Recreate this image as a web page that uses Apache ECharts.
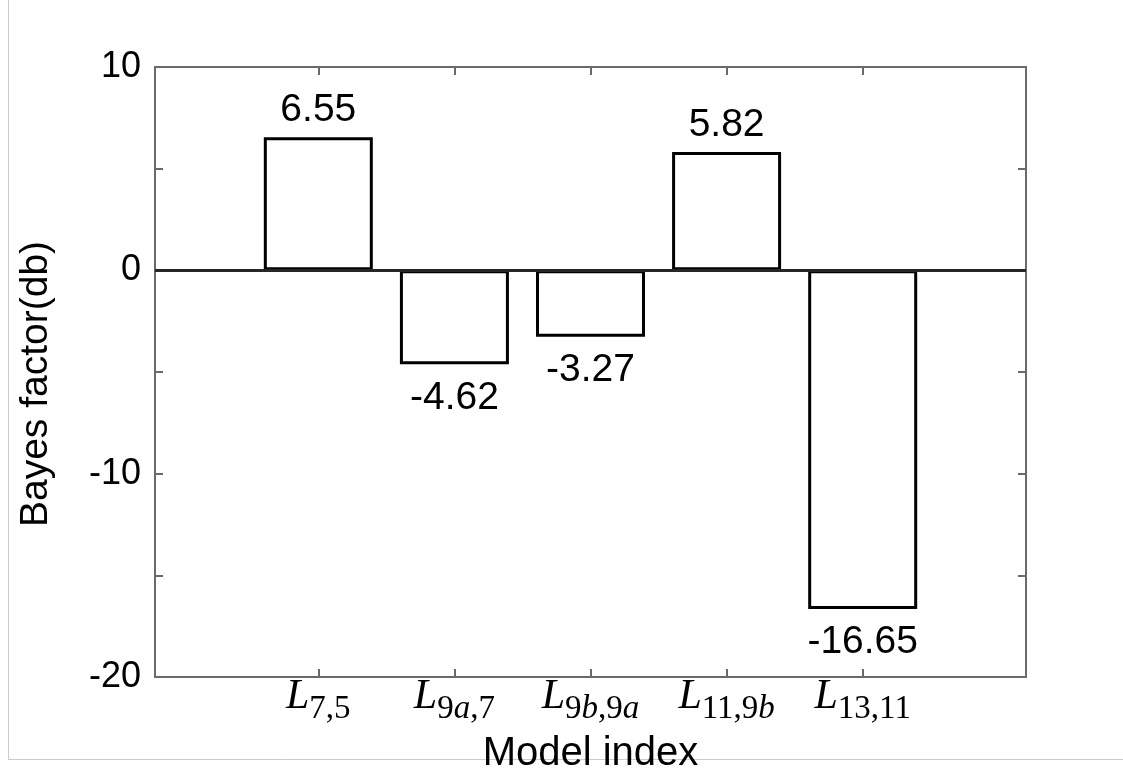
<!DOCTYPE html>
<html><head><meta charset="utf-8">
<script src="https://cdn.jsdelivr.net/npm/echarts@6/dist/echarts.min.js"></script>
<style>html,body{margin:0;padding:0;background:#fff}#c{width:1123px;height:774px}</style>
</head><body><div id="c"></div>
<script>
// ---- data ----
const categories = ['7,5', '9a,7', '9b,9a', '11,9b', '13,11'];
const positions = [1, 2, 3, 4, 5];
const values = [6.55, -4.62, -3.27, 5.82, -16.65];
const yTickLabels = [-20, -10, 0, 10];
const xTitle = 'Model index';
const yTitle = 'Bayes factor(db)';

// ---- build ----
function subRich(s) {
  let out = '', buf = '';
  for (const ch of s) {
    if (/[a-z]/i.test(ch)) {
      if (buf) { out += '{s|' + buf + '}'; buf = ''; }
      out += '{si|' + ch + '}';
    } else buf += ch;
  }
  if (buf) out += '{s|' + buf + '}';
  return out;
}
function xLabel(v) {
  const i = positions.indexOf(v);
  if (i < 0) return '';
  return '{L|L}' + subRich(categories[i]);
}
const frame = '#6a6a6a';
const chart = echarts.init(document.getElementById('c'));
const barData = positions.map((p, i) => ({
  value: [p, values[i]],
  label: { position: values[i] >= 0 ? 'top' : 'bottom', distance: values[i] >= 0 ? 7 : 14 }
}));
const subStyle = { fontFamily: 'Liberation Serif', fontSize: 33, height: 18, lineHeight: 18, verticalAlign: 'bottom', color: '#000' };
chart.setOption({
  animation: false,
  backgroundColor: '#fff',
  grid: { left: 155, right: 97, top: 67, bottom: 97, containLabel: false, outerBoundsMode: 'none' },
  graphic: [
    { type: 'line', z: -10, shape: { x1: 8.5, y1: 0, x2: 8.5, y2: 759.5 }, style: { stroke: '#cccccc', lineWidth: 1 } },
    { type: 'line', z: -10, shape: { x1: 8, y1: 759.5, x2: 1123, y2: 759.5 }, style: { stroke: '#cccccc', lineWidth: 1 } }
  ],
  xAxis: [{
    type: 'value', position: 'bottom', min: -0.2, max: 6.2,
    axisLine: { show: true, onZero: false, lineStyle: { color: frame, width: 2 } },
    splitLine: { show: false },
    axisTick: { show: true, inside: true, length: 8, customValues: positions, lineStyle: { color: frame, width: 2 } },
    axisLabel: {
      show: true, customValues: positions, margin: -1, formatter: xLabel,
      rich: {
        L: { fontFamily: 'Liberation Serif', fontStyle: 'italic', fontSize: 42, lineHeight: 42, color: '#000' },
        s: subStyle,
        si: Object.assign({}, subStyle, { fontStyle: 'italic' })
      }
    },
    name: xTitle, nameLocation: 'middle', nameGap: 57,
    nameTextStyle: { fontFamily: 'Liberation Sans', fontSize: 40, color: '#000' }
  }, {
    type: 'value', position: 'top', min: -0.2, max: 6.2,
    axisLine: { show: true, onZero: false, lineStyle: { color: frame, width: 2 } },
    splitLine: { show: false },
    axisTick: { show: true, inside: true, length: 8, customValues: positions, lineStyle: { color: frame, width: 2 } },
    axisLabel: { show: false }
  }],
  yAxis: [{
    type: 'value', position: 'left', min: -20, max: 10, interval: 5,
    axisLine: { show: true, onZero: false, lineStyle: { color: frame, width: 2 } },
    splitLine: { show: false },
    axisTick: { show: true, inside: true, length: 8, lineStyle: { color: frame, width: 2 } },
    axisLabel: { show: true, customValues: yTickLabels, margin: 14, fontFamily: 'Liberation Sans', fontSize: 36, color: '#000' },
    name: yTitle, nameLocation: 'middle', nameGap: 99, nameRotate: 90,
    nameTextStyle: { fontFamily: 'Liberation Sans', fontSize: 39, color: '#000', padding: [0, 24, 0, 0] }
  }, {
    type: 'value', position: 'right', min: -20, max: 10, interval: 5,
    axisLine: { show: true, onZero: false, lineStyle: { color: frame, width: 2 } },
    splitLine: { show: false },
    axisTick: { show: true, inside: true, length: 8, lineStyle: { color: frame, width: 2 } },
    axisLabel: { show: false }
  }],
  series: [{
    type: 'bar', xAxisIndex: 0, yAxisIndex: 0,
    barWidth: 109,
    data: barData,
    itemStyle: { color: '#fff', borderColor: '#000', borderWidth: 3 },
    label: {
      show: true, fontFamily: 'Liberation Sans', fontSize: 39, color: '#000',
      formatter: p => p.value[1].toFixed(2)
    },
    markLine: {
      silent: true, symbol: 'none', label: { show: false },
      lineStyle: { color: '#262626', width: 3, type: 'solid' },
      data: [{ yAxis: 0 }]
    }
  }]
});
</script></body></html>
